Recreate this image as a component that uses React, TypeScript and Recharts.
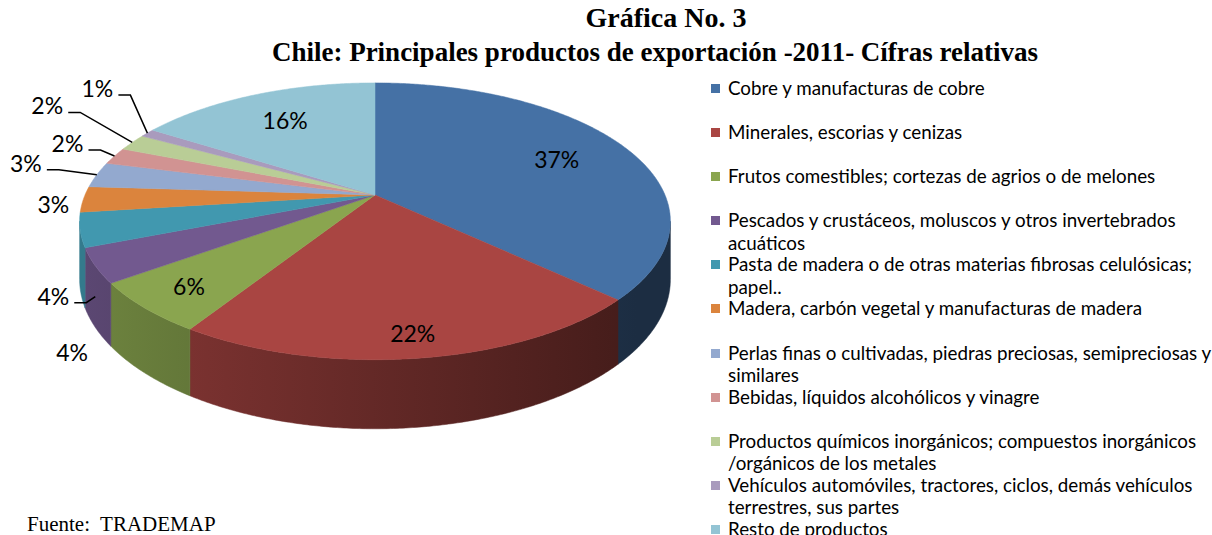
import React from 'react';
import { PieChart, Pie, Cell, Legend } from 'recharts';

const categories = [
  'Cobre y manufacturas de cobre',
  'Minerales, escorias y cenizas',
  'Frutos comestibles; cortezas de agrios o de melones',
  'Pescados y crustáceos, moluscos y otros invertebrados acuáticos',
  'Pasta de madera o de otras materias fibrosas celulósicas; papel..',
  'Madera, carbón vegetal y manufacturas de madera',
  'Perlas finas o cultivadas, piedras preciosas, semipreciosas y similares',
  'Bebidas, líquidos alcohólicos y vinagre',
  'Productos químicos inorgánicos; compuestos inorgánicos /orgánicos de los metales',
  'Vehículos automóviles, tractores, ciclos, demás vehículos terrestres, sus partes',
  'Resto de productos',
];

// percent of total exports, 2011
const shares = [37, 22, 6, 4, 4, 3, 3, 2, 2, 1, 16];

const colors = [
  '#4571a5', '#a94542', '#8aa54f', '#72598f', '#4198af', '#db843d',
  '#93a9cf', '#d19392', '#b9cd96', '#a99bbd', '#93c4d4',
];

const data = categories.map((name, i) => ({ name, value: shares[i] }));

// fake 3D: perspective-ish projection of the pie disc
const RAD = Math.PI / 180;
const TILT = 0.46;
const PERSP = 0.19;
const DEPTH = 0.193;

function project(cx: number, cy: number, r: number, deg: number, k = 1) {
  const u = Math.cos(deg * RAD) * k;
  const v = Math.sin(deg * RAD) * k;
  const w = 1 + PERSP * v;
  return { x: cx + (r * u) / w, y: cy - (r * TILT * v) / w, w };
}

function shade(hex: string, f: number) {
  const n = parseInt(hex.slice(1), 16);
  const c = [(n >> 16) & 255, (n >> 8) & 255, n & 255].map((x) => Math.round(x * f));
  return `rgb(${c[0]},${c[1]},${c[2]})`;
}

const SliceShape = (props: any) => {
  const { cx, cy, outerRadius, startAngle, endAngle, fill } = props;
  const r = outerRadius;
  const lo = Math.min(startAngle, endAngle);
  const hi = Math.max(startAngle, endAngle);
  const arc = (a0: number, a1: number) => {
    const n = Math.max(2, Math.ceil(Math.abs(a1 - a0) * 2));
    const pts = [];
    for (let i = 0; i <= n; i++) pts.push(project(cx, cy, r, a0 + ((a1 - a0) * i) / n));
    return pts;
  };
  const c = project(cx, cy, r, 0, 0);
  const top = arc(lo, hi);
  const topPath = `M${c.x},${c.y} ` + top.map((p) => `L${p.x},${p.y}`).join(' ') + ' Z';

  // front wall, only the part that faces the viewer
  const edge = Math.asin(PERSP) / RAD;
  const w0 = Math.max(lo, -180 + edge);
  const w1 = Math.min(hi, -edge);
  let wallPath = '';
  if (w1 > w0) {
    const upper = arc(w0, w1);
    const lower = upper.map((p) => ({ x: p.x, y: p.y + (DEPTH * r) / p.w })).reverse();
    wallPath =
      'M' + upper.map((p) => `${p.x},${p.y}`).join(' L') + ' L' + lower.map((p) => `${p.x},${p.y}`).join(' L') + ' Z';
  }
  const gid = `side-${fill.replace('#', '')}`;
  return (
    <g>
      <defs>
        <linearGradient id={gid} gradientUnits="userSpaceOnUse" x1={cx - r} y1={0} x2={cx + 0.9 * r} y2={0}>
          <stop offset="0" stopColor={shade(fill, 0.8)} />
          <stop offset="1" stopColor={shade(fill, 0.4)} />
        </linearGradient>
      </defs>
      {wallPath && <path d={wallPath} fill={`url(#${gid})`} stroke={`url(#${gid})`} strokeWidth={0.5} />}
      <path d={topPath} fill={fill} stroke={fill} strokeWidth={0.5} />
    </g>
  );
};

// where the small slices put their labels (offset from the rim point)
const outsideLabels: Record<number, { dx: number; dy: number; leader: boolean; wall?: boolean }> = {
  3: { dx: -42, dy: 30, leader: true, wall: true },
  4: { dx: -8, dy: 122, leader: false },
  5: { dx: -30, dy: 5, leader: false },
  6: { dx: -71, dy: -12, leader: true },
  7: { dx: -47, dy: -13, leader: true },
  8: { dx: -85, dy: -37, leader: true },
  9: { dx: -50, dy: -45, leader: true },
};

const labelFont = { fontFamily: 'Lato', fontSize: 23, fill: '#000' };

const renderLabel = (props: any) => {
  const { cx, cy, outerRadius, startAngle, endAngle, index, value } = props;
  const r = outerRadius;
  const mid = (startAngle + endAngle) / 2;
  const text = `${value}%`;
  const lay = outsideLabels[index];
  if (!lay) {
    const k = 0.72 + 0.15 * Math.max(0, -Math.sin(mid * RAD));
    const p = project(cx, cy, r, mid, k);
    return (
      <text key={index} x={p.x} y={p.y} textAnchor="middle" dominantBaseline="central" {...labelFont}>
        {text}
      </text>
    );
  }
  const rim = project(cx, cy, r, mid);
  const lx = rim.x + lay.dx;
  const ly = rim.y + lay.dy;
  const ax = rim.x;
  const ay = lay.wall ? rim.y + (DEPTH * r) / rim.w / 2 : rim.y;
  return (
    <g key={index}>
      {lay.leader && (
        <polyline
          points={`${lx + 21},${ly + 7} ${lx + 33},${ly + 7} ${ax},${ay}`}
          fill="none"
          stroke="#000"
          strokeWidth={1.5}
        />
      )}
      <text x={lx} y={ly} textAnchor="middle" dominantBaseline="central" {...labelFont}>
        {text}
      </text>
    </g>
  );
};

const renderLegend = () => (
  <div style={{ fontFamily: 'Lato', fontSize: 18.8, color: '#000', width: 505 }}>
    {categories.map((name, i) => (
      <div key={name} style={{ position: 'relative', height: 44.1, paddingLeft: 17, lineHeight: '22.5px' }}>
        <span style={{ position: 'absolute', left: 0, top: 7, width: 9, height: 9, background: colors[i] }} />
        {name}
      </div>
    ))}
  </div>
);

const serif = '"Liberation Serif", "Times New Roman", serif';

export default function App() {
  return (
    <div style={{ position: 'relative', width: 1212, height: 535, background: '#fff', overflow: 'hidden' }}>
      <style>{'body{margin:0}'}</style>
      <div
        style={{
          position: 'absolute',
          left: 666 - 300,
          width: 600,
          top: 2,
          textAlign: 'center',
          fontFamily: serif,
          fontWeight: 'bold',
          fontSize: 28,
          lineHeight: '32px',
        }}
      >
        Gráfica No. 3
      </div>
      <div
        style={{
          position: 'absolute',
          left: 655 - 500,
          width: 1000,
          top: 36,
          textAlign: 'center',
          fontFamily: serif,
          fontWeight: 'bold',
          fontSize: 27,
          lineHeight: '32px',
          whiteSpace: 'nowrap',
        }}
      >
        Chile: Principales productos de exportación -2011- Cífras relativas
      </div>
      <PieChart
        width={1212}
        height={535}
        margin={{ top: 0, right: 0, bottom: 0, left: 0 }}
        style={{ position: 'absolute', left: 0, top: 0 }}
      >
        <Pie
          data={data}
          dataKey="value"
          nameKey="name"
          cx={375}
          cy={195}
          outerRadius={290}
          startAngle={90}
          endAngle={-270}
          stroke="none"
          shape={SliceShape}
          label={renderLabel}
          labelLine={false}
          isAnimationActive={false}
        >
          {data.map((d, i) => (
            <Cell key={d.name} fill={colors[i]} />
          ))}
        </Pie>
        <Legend
          layout="vertical"
          align="right"
          verticalAlign="top"
          content={renderLegend}
          wrapperStyle={{ position: 'absolute', left: 711, top: 77, width: 505 }}
        />
      </PieChart>
      <div
        style={{
          position: 'absolute',
          left: 27,
          top: 512,
          fontFamily: serif,
          fontSize: 21,
          lineHeight: '24px',
          whiteSpace: 'pre',
        }}
      >
        {'Fuente:  TRADEMAP'}
      </div>
    </div>
  );
}
